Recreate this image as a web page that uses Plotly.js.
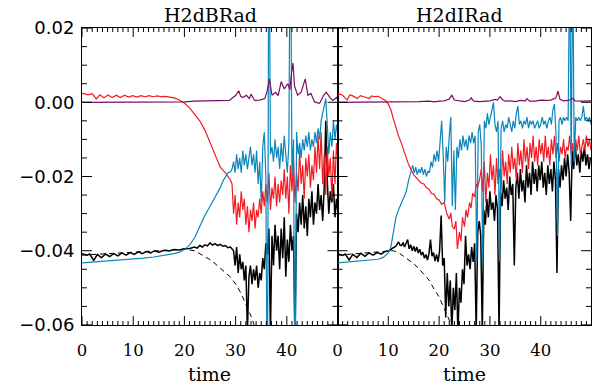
<!DOCTYPE html>
<html><head><meta charset="utf-8">
<script src="https://cdn.plot.ly/plotly-3.0.1.min.js"></script>
<style>html,body{margin:0;padding:0;background:#fff}#chart{width:603px;height:389px}</style>
</head><body><div id="chart"></div>
<script>
// All series values are in units of 1e-3 (thousandths)
const UNIT = 0.001;
const NOISE_STEP = 0.3; // sampling step of the noisy stretches (time units)

const panelTitles = ["H2dBRad", "H2dIRad"];
const xTitle = "time";
const xMajorTicks = [0, 10, 20, 30, 40];
const yMajorTicks = [-0.06, -0.04, -0.02, 0.00, 0.02];

// ---------- Panel B (left) ----------
const purpleB_t = [0,5,10,15,18,20,22,25,28,28.8,29.4,30.0,30.6,31.0,31.4,32.1,32.7,33.0,33.7,34.7,35.7,36.1,36.6,37.1,37.8,38.3,38.9,39.5,40.2,40.6,40.9,41.2,41.5,42.1,42.8,43.6,44.1,44.7,45.4,46.4,47.2,47.7,48.4,49.0,49.7,49.9];
const purpleB_v = [0,0,0,0,0.05,0.1,0.3,0.4,0.3,0.5,1.2,1.8,3.1,1.6,1.3,1.9,1.0,2.2,0.5,0.6,1.0,2.7,6.3,1.9,2.7,1.8,5.6,3.6,5.0,3.4,7.7,10.6,4.4,1.9,2.7,6.3,1.9,2.4,0.1,-0.3,1.9,2.7,1.3,0.5,1.3,0.8];

const dashB_t = [0,5,10,15,20,22,24,25,26,27,28,29,30,31,32,33,34];
const dashB_v = [-41.2,-40.8,-40.4,-40.0,-39.6,-40.0,-41.5,-42.4,-43.5,-44.8,-45.9,-47.1,-49.0,-51.3,-54.3,-57.6,-61.5];

const blackB_t = [0,0.5,1.0,1.5,2.3,3.0,3.8,4.6,5.4,6.2,7.0,7.8,8.6,9.4,10.2,11,11.8,12.6,13.4,14.2,15,16,17,18,19,20,21,22,22.5,23,23.5,24,24.5,25,25.5,26,26.5,27,27.5,28,28.5,29,29.3];
const blackB_v = [-40.8,-41.0,-41.2,-40.9,-42.6,-41.0,-41.9,-40.9,-41.6,-40.8,-41.4,-40.6,-41.2,-40.5,-41.0,-40.3,-40.8,-40.2,-40.6,-40.0,-40.4,-39.9,-40.1,-39.7,-39.8,-39.5,-39.4,-39.0,-39.3,-38.6,-39.0,-38.4,-38.7,-37.9,-38.5,-38.1,-38.6,-38.3,-38.8,-38.6,-39.2,-39.0,-39.6];
const blackB_noiseStart = 29.6;
const blackB_noise = [
 -40,-44,-39,-46,-41,-45,-43,-48,-44,-62,
 -47,-44,-49,-45,-48,-44,-50,-46,-48,-42,
 -45,-38,-41,-34,-62,-36,-44,-33,-40,-36,
 -45,-34,-42,-31,-47,-37,-43,-33,-40,-36,
 -64,-30,-35,-27,-33,-25,-34,-28,-36,-26,
 -31,-24,-33,-27,-30,-22,-29,-25,-32,-23,
 -5,-21,-30,-24,-27,-22,-31,-26,-30];

const redB_t = [0,0.2,1.2,2.0,2.8,3.5,4.3,5.1,5.9,6.7,7.5,8.3,9.1,9.9,10.7,11.5,12.3,13.1,13.9,14.7,15.5,16.3,17.1,18,19,20,21,22,23,24,25,26,27,28,29];
const redB_v = [2.3,2.4,2.0,2.3,0.9,2.0,1.2,2.0,1.3,1.9,1.3,1.9,1.4,1.8,1.4,1.8,1.5,1.8,1.5,1.7,1.5,1.6,1.4,1.2,0.6,-0.2,-1.5,-3.3,-5.0,-7.5,-10.8,-14.5,-17.5,-19.0,-21.0];
const redB_noiseStart = 29.3;
const redB_noise = [
 -22,-30,-25,-33,-27,-31,-24,-29,-26,-33,
 -28,-35,-29,-32,-27,-34,-29,-31,-26,-30,
 -24,-28,-22,-27,-19,-29,-23,-26,-20,-28,
 -22,-27,-21,-25,-18,-26,-20,-30,-17,-24,
 -15,-27,-19,-24,-13,-22,-17,-26,-15,-20,
 -14,-23,-17,-21,-12,-19,-9,-18,-8,-22,
 -14,-25,-12,-20,-15,-26,-13,-22,-11,-16];

const blueB_t = [0,2,5,8,10,12,14,16,18,19,20,21,22,23,24,25,26,27,27.5,28,28.5,29];
const blueB_v = [-43.3,-43.1,-42.8,-42.5,-42.3,-42.0,-41.7,-41.3,-40.8,-40.4,-39.7,-38.5,-36.5,-33.5,-30.5,-28.0,-25.5,-23.0,-21.3,-20.0,-19.0,-18.8];
const blueB_noiseStart = 29.3;
const blueB_noise = [
 -18,-16,-19,-14,-18,-15,-19,-13,-17,-14,
 -18,-15,-12,-17,-14,-19,-13,-22,-16,-27,
 -12,-8,-20,-90,60,-14,-12,-16,-10,-15,
 -12,-18,-11,-16,-9,-14,-19,-11,60,-20,
 -10,-90,-8,-14,-11,-15,-10,-13,-9,-12,
 -8,-13,-10,-12,-8,-11,-7,-10,-5,-3,
 -1,1,-6,-14,-8,-12,-5,-10,-6,-9];

// ---------- Panel I (right) ----------
const purpleI_t = [0,10,14,16,18,19,20,21,22,22.5,23,24,25,26,26.3,26.8,28,30,31,31.5,32,32.5,33,34,35,36,37,37.3,37.8,39,40,41,42,43,43.4,43.8,44.5,45.5,46.3,46.8,48,50];
const purpleI_v = [0,0,0.1,0.2,0.3,0.1,0.3,0.4,0.9,1.9,0.6,0.3,0.2,0.6,1.2,0.3,0.2,0.4,0.8,0.6,1.5,0.7,0.3,0.4,0.2,0.5,0.4,1.0,0.3,0.3,0.6,0.5,0.6,1.2,3.0,0.8,0.4,0.5,1.1,0.4,0.3,0.4];

const dashI_t = [0,3,6,9,10,11,12,13,14,15,16,17,18,19,20,21,22,22.7];
const dashI_v = [-41.2,-40.9,-40.6,-40.2,-40.0,-40.0,-40.5,-41.5,-42.5,-43.5,-44.8,-46.3,-47.9,-50.3,-52.5,-55.6,-58.7,-61.5];

const blackI_t = [0,0.5,1.0,1.5,2.3,3.0,3.8,4.6,5.4,6.2,7.0,7.8,8.6,9.4,10.2,11,11.5,12,12.3];
const blackI_v = [-40.8,-41.0,-41.3,-40.9,-42.5,-41.0,-41.8,-40.7,-41.5,-40.6,-41.2,-40.5,-40.9,-40.2,-40.0,-39.2,-38.8,-37.6,-38.5];
const blackI_noiseStart = 12.6;
const blackI_noise = [
 -38.6,-37.8,-39.0,-38.0,-37.0,-39.5,-38.4,-40.0,-38.8,-40.2,
 -39.0,-40.6,-39.6,-41.2,-40.4,-42.0,-41.0,-42.5,-40.8,-37.0,
 -41.5,-40.5,-42.8,-41.0,-43.0,-40.0,-30.5,-44.0,-42.0,-58.0,
 -46,-55,-48,-62,-50,-56,-46,-62,-50,-54,
 -45,-49,-36,-44,-41,-45,-39,-43,-38,-62,
 -35,-32,-36,-62,-29,-33,-26,-31,-24,-29,
 -27,-32,-25,-29,-62,-24,-28,-21,-26,-23,
 -29,-20,-25,-22,-44,-23,-19,-26,-18,-24,
 -21,-27,-17,-23,-19,-25,-16,-22,-18,-24,
 -17,-21,-16,-23,-19,-25,-17,-22,-18,-24,
 -16,-21,-46,-18,-23,-17,-21,-15,-20,-14,
 -19,-32,-13,-18,-11,-17,-14,-19,-13,-16,
 -12,-17,-14,-18,-15];

const redI_t = [0,0.5,1.0,1.9,2.4,2.9,3.9,4.5,5.2,6.2,6.8,7.2,8.0,8.5,9.0,9.5,10.0,10.5,11,11.5,12,12.5,13,13.5,14,14.5,15,15.5,16,16.5,17,17.5,18,18.5,19,19.5,20,20.5,21,21.5,22,22.3,22.6,23,23.3,23.6,24,24.3,24.6,25,25.3,25.6,26,26.3,26.6,27,27.3,27.6,28];
const redI_v = [2.0,2.2,1.9,0.6,2.0,1.8,1.0,1.8,1.5,1.0,1.7,1.5,1.6,1.2,1.0,0.4,-0.5,-2.0,-4.5,-7.0,-9.0,-10.8,-13.0,-15.2,-16.8,-18.2,-19.6,-20.3,-21.0,-21.8,-22.0,-23.0,-23.4,-24.6,-24.8,-26.0,-26.3,-27.5,-27.0,-30.0,-31.5,-29.8,-33.5,-34.2,-32.0,-39.5,-35.0,-37.5,-31.0,-33.5,-29.0,-31.0,-27.0,-28.5,-24.5,-25.5,-22.0,-23.0,-20.5];
const redI_noiseStart = 28.3;
const redI_noise = [
 -18,-24,-16,-27,-19,-23,-14,-21,-17,-25,
 -15,-22,-18,-24,-13,-20,-16,-22,-14,-19,
 -12,-18,-15,-21,-11,-17,-13,-19,-10,-16,
 -12,-18,-11,-15,-9,-16,-12,-17,-10,-14,
 -11,-16,-9,-15,-12,-17,-10,-14,-9,-15,
 -11,-16,-12,-14,-10,-15,-12,-13,-9,-14,
 -11,-16,-10,-13,-9,-14,-12,-10,-13,-9,
 -12,-10,-13];

const blueI_t = [0,2,4,6,8,9,10,10.5,11,11.5,12,12.5,13,13.5,14,14.5];
const blueI_v = [-43.3,-43.1,-42.9,-42.7,-42.3,-41.8,-40.6,-39.0,-35.5,-31.0,-29.0,-27.5,-26.0,-24.2,-21.0,-18.0];
const blueI_noiseStart = 14.8;
const blueI_noise = [
 -17,-19,-17.5,-19.5,-18,-19,-17.5,-19.5,-18,-20,
 -18.5,-19,-16,-17.5,-14,-16,-13,-16,-11,-5,
 -14,-27,-12,-16,-9,-4,-28,-13,-29,-12,
 -15,-10,-13,-9,-12,-10,-13,-9,-11,-8,
 -11,-9,-43,-8,-6,-12,-44,-5,-7,-3,
 -6,-4,-1,0,-6,-8,-5,-43,-7,-5,
 -8,-6,-7,-4,-6,-8,-5,-7,-3,-1,
 -6,-5,-7,-5,-6,-4,-7,-5,-6,-5,
 -7,-6,-5,-7,-6,-4,-6,-5,-7,-5,
 -4,-6,-2,-0.5,-8,-36,-5,-4,-6,-4,
 -5,-4,-5,40,-17,40,-16,-4,-5,-4,
 -5,-4,-1,-5,-4,-5,-4,-6];

// ---------- build ----------
const COLORS = {black:'#000000', red:'#f41a22', blue:'#0b86bd', purple:'#7a0d60'};
const X_RANGE = [0, 49.9];
const Y_RANGE = [-0.06002, 0.02002];
const W = 603, H = 389, M = {l: 82, r: 12, t: 28, b: 64};
const split = 0.502;
const plotW = W - M.l - M.r;
const panelW = [plotW * split, plotW * (1 - split)];

function sampleTimes(t0, n) {
  const out = [];
  for (let i = 0; i < n; i++) out.push(Math.round((t0 + i * NOISE_STEP) * 100) / 100);
  return out;
}
function join(tS, vS, t0, vN) {
  const t = tS.slice(), v = vS.slice();
  if (vN) { t.push(...sampleTimes(t0, vN.length)); v.push(...vN); }
  return {x: t, y: v.map(a => a * UNIT)};
}
function trace(d, color, width, xa, ya, dash) {
  return {x: d.x, y: d.y, type: 'scatter', mode: 'lines', xaxis: xa, yaxis: ya,
    line: {color: color, width: width, dash: dash || 'solid'}, hoverinfo: 'skip', showlegend: false};
}

const traces = [
  trace(join(dashB_t, dashB_v), COLORS.black, 1, 'x', 'y', '5px,4px'),
  trace(join(blackB_t, blackB_v, blackB_noiseStart, blackB_noise), COLORS.black, 1.5, 'x', 'y'),
  trace(join(redB_t, redB_v, redB_noiseStart, redB_noise), COLORS.red, 1.2, 'x', 'y'),
  trace(join(blueB_t, blueB_v, blueB_noiseStart, blueB_noise), COLORS.blue, 1.2, 'x', 'y'),
  trace(join(purpleB_t, purpleB_v), COLORS.purple, 1.2, 'x', 'y'),
  trace(join(dashI_t, dashI_v), COLORS.black, 1, 'x2', 'y2', '5px,4px'),
  trace(join(blackI_t, blackI_v, blackI_noiseStart, blackI_noise), COLORS.black, 1.5, 'x2', 'y2'),
  trace(join(redI_t, redI_v, redI_noiseStart, redI_noise), COLORS.red, 1.2, 'x2', 'y2'),
  trace(join(blueI_t, blueI_v, blueI_noiseStart, blueI_noise), COLORS.blue, 1.2, 'x2', 'y2'),
  trace(join(purpleI_t, purpleI_v), COLORS.purple, 1.2, 'x2', 'y2')
];

// Tick marks (inside, on all four sides) drawn as short shapes anchored through the axes
const shapes = [];
function vTick(xa, ya, xv, yAnchor, len) {
  shapes.push({type: 'line', xref: xa, yref: ya, x0: xv, x1: xv, ysizemode: 'pixel', yanchor: yAnchor,
    y0: 0, y1: len, line: {color: '#000', width: 1}, layer: 'above'});
}
function hTick(xa, ya, yv, fromRight, len, pw) {
  const f = len / pw;
  shapes.push({type: 'line', xref: xa + ' domain', yref: ya, y0: yv, y1: yv,
    x0: fromRight ? 1 : 0, x1: fromRight ? 1 - f : f, line: {color: '#000', width: 1}, layer: 'above'});
}
[['x', 'y', panelW[0]], ['x2', 'y2', panelW[1]]].forEach(([xa, ya, pw]) => {
  for (let t = 0; t <= 49; t++) {
    const len = xMajorTicks.includes(t) ? 9 : 4;
    vTick(xa, ya, t, Y_RANGE[0], len);
    vTick(xa, ya, t, Y_RANGE[1], -len);
  }
  for (let i = -12; i <= 4; i++) {
    const yv = Math.round(i * 5) / 1000;
    const len = (i % 4 === 0) ? 10 : 5;
    hTick(xa, ya, yv, false, len, pw);
    hTick(xa, ya, yv, true, len, pw);
  }
});

function xAxis(domain, anchor) {
  return {domain: domain, anchor: anchor, range: X_RANGE, tickmode: 'array', tickvals: xMajorTicks,
    ticktext: xMajorTicks.map(String), ticks: '',
    showline: true, linecolor: '#000', linewidth: 1, mirror: true,
    showgrid: false, zeroline: false, ticklabelstandoff: 10,
    tickfont: {family: 'DejaVu Serif', size: 16.5, color: '#000'}};
}
function yAxis(anchor, labels) {
  return {anchor: anchor, range: Y_RANGE, tickmode: 'array', tickvals: yMajorTicks,
    tickformat: '.2f', showticklabels: labels, ticks: '',
    showline: true, linecolor: '#000', linewidth: 1, mirror: true,
    showgrid: false, zeroline: false, ticklabelstandoff: 3,
    tickfont: {family: 'DejaVu Sans', size: 18, color: '#000'}};
}

const tfont = {family: 'DejaVu Serif', size: 19, color: '#000'};
const layout = {
  width: W, height: H,
  margin: M,
  paper_bgcolor: '#fff', plot_bgcolor: '#fff',
  xaxis: xAxis([0, split], 'y'),
  xaxis2: xAxis([split, 1], 'y2'),
  yaxis: yAxis('x', true),
  yaxis2: Object.assign(yAxis('x2', false), {matches: 'y'}),
  shapes: shapes,
  annotations: [
    {text: panelTitles[0], xref: 'paper', yref: 'paper', x: 0.2515, y: 1, xanchor: 'center', yanchor: 'bottom', showarrow: false, font: tfont},
    {text: panelTitles[1], xref: 'paper', yref: 'paper', x: 0.7426, y: 1, xanchor: 'center', yanchor: 'bottom', showarrow: false, font: tfont},
    {text: xTitle, xref: 'paper', yref: 'paper', x: split / 2, y: 0, xanchor: 'center', yanchor: 'top', yshift: -36, showarrow: false, font: tfont},
    {text: xTitle, xref: 'paper', yref: 'paper', x: (split + 1) / 2, y: 0, xanchor: 'center', yanchor: 'top', yshift: -36, showarrow: false, font: tfont}
  ]
};

Plotly.newPlot('chart', traces, layout, {staticPlot: true, displayModeBar: false});
</script></body></html>
